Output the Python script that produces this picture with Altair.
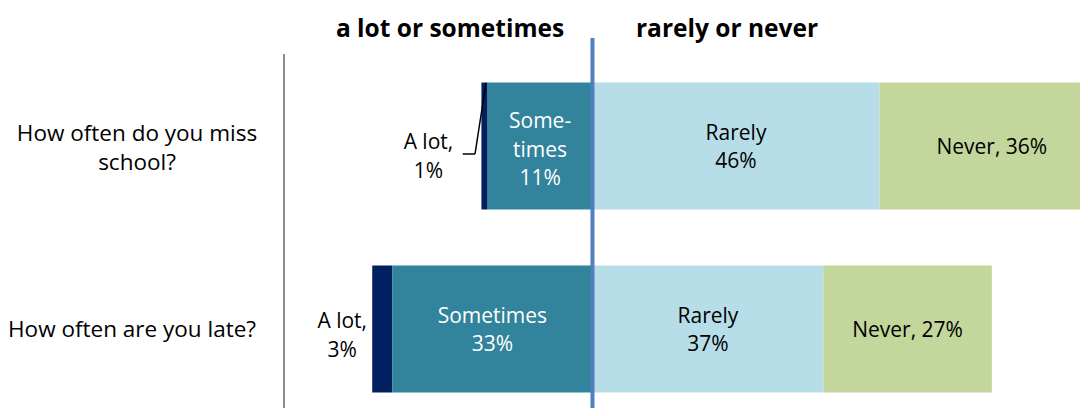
import altair as alt
import pandas as pd

# ---- data ----
questions = ["How often do you miss school?", "How often are you late?"]
question_labels = ["How often do you miss\nschool?", "How often are you late?"]
categories = ["A lot", "Sometimes", "Rarely", "Never"]
a_lot = [1.0, 3.2]
sometimes = [16.8, 32.1]
rarely = [46.0, 37.0]
never = [36.0, 27.0]
label_a_lot = ["A lot,\n1%", "A lot,\n3%"]
label_sometimes = ["Some-\ntimes\n11%", "Sometimes\n33%"]
label_rarely = ["Rarely\n46%", "Rarely\n37%"]
label_never = ["Never, 36%", "Never, 27%"]
headers = ["a lot or sometimes", "rarely or never"]
colors = ["#002060", "#31849B", "#B7DEE8", "#C3D69B"]
text_colors = ["black", "white", "black", "black"]

FONT = "Open Sans"

# ---- build tables ----
rows = []
labels = []
for i, q in enumerate(questions):
    s0, s1 = -sometimes[i], 0.0
    a0, a1 = -sometimes[i] - a_lot[i], -sometimes[i]
    r0, r1 = 0.0, rarely[i]
    n0, n1 = rarely[i], rarely[i] + never[i]
    segs = [(categories[0], a0, a1, label_a_lot[i]),
            (categories[1], s0, s1, label_sometimes[i]),
            (categories[2], r0, r1, label_rarely[i]),
            (categories[3], n0, n1, label_never[i])]
    for k, (cat, lo, hi, lab) in enumerate(segs):
        rows.append({"q": q, "cat": cat, "lo": lo, "hi": hi})
        labels.append({"q": q, "cat": cat, "lo": lo, "mid": (lo + hi) / 2,
                       "text": lab, "tc": text_colors[k], "row": i,
                       "n": lab.count("\n") + 1})

bars_df = pd.DataFrame(rows)
lab_df = pd.DataFrame(labels)
q_df = pd.DataFrame({"q": questions, "text": question_labels,
                     "n": [t.count("\n") + 1 for t in question_labels]})
zero_df = pd.DataFrame({"x": [0.0]})

W, H = 795, 370
xscale = alt.Scale(domain=[-49.28, 78.13], nice=False, zero=False)
yscale = alt.Scale(domain=questions, paddingInner=0.306, paddingOuter=0.16393, align=0.7417)

bars = alt.Chart(bars_df).mark_bar(clip=True, cornerRadius=0).encode(
    x=alt.X("lo:Q", scale=xscale, axis=None),
    x2="hi:Q",
    y=alt.Y("q:N", scale=yscale, axis=None),
    color=alt.Color("cat:N", scale=alt.Scale(domain=categories, range=colors), legend=None),
)


def inside_layer(nlines, dy):
    return alt.Chart(lab_df).transform_filter(
        (alt.datum.cat != "A lot") & (alt.datum.n == nlines)
    ).mark_text(
        font=FONT, fontSize=21, lineBreak="\n", lineHeight=28.5, align="center",
        baseline="middle", dy=dy
    ).encode(
        x=alt.X("mid:Q", scale=xscale),
        y=alt.Y("q:N", scale=yscale),
        text="text:N",
        color=alt.Color("tc:N", scale=None),
    )


inside1 = inside_layer(1, 2)
inside2 = inside_layer(2, -12.5)
inside3 = inside_layer(3, -24)

alot1 = alt.Chart(lab_df).transform_filter(
    (alt.datum.cat == "A lot") & (alt.datum.row == 0)
).mark_text(font=FONT, fontSize=21, lineBreak="\n", lineHeight=28.5, align="center",
            baseline="middle", dx=-53, dy=-3, color="black").encode(
    x=alt.X("lo:Q", scale=xscale), y=alt.Y("q:N", scale=yscale), text="text:N")

alot2 = alt.Chart(lab_df).transform_filter(
    (alt.datum.cat == "A lot") & (alt.datum.row == 1)
).mark_text(font=FONT, fontSize=21, lineBreak="\n", lineHeight=28.5, align="center",
            baseline="middle", dx=-30, dy=-7, color="black").encode(
    x=alt.X("lo:Q", scale=xscale), y=alt.Y("q:N", scale=yscale), text="text:N")

leader_h = alt.Chart(zero_df).mark_rule(color="black", strokeWidth=1.5).encode(
    x=alt.value(177.7), x2=alt.value(190), y=alt.value(116), y2=alt.value(116))
leader_d = alt.Chart(zero_df).mark_rule(color="black", strokeWidth=1.5).encode(
    x=alt.value(190), x2=alt.value(201), y=alt.value(116), y2=alt.value(45))


def q_layer(nlines, dy, xpos):
    return alt.Chart(q_df).transform_filter(alt.datum.n == nlines).mark_text(
        font=FONT, fontSize=22.5, lineBreak="\n", lineHeight=29, align="center",
        baseline="middle", color="black", dy=dy
    ).encode(x=alt.value(xpos), y=alt.Y("q:N", scale=yscale), text="text:N")


qlabels1 = q_layer(1, 1, -153)
qlabels2 = q_layer(2, -12, -148)

center_line = alt.Chart(zero_df).mark_rule(color="#4F81BD", strokeWidth=4).encode(
    x=alt.X("x:Q", scale=xscale), y=alt.value(0), y2=alt.value(H))

gray_line = alt.Chart(zero_df).mark_rule(color="#8C8C8C", strokeWidth=2).encode(
    x=alt.value(-1), y=alt.value(16), y2=alt.value(H))

head_df = pd.DataFrame({"h": headers, "px": [165, 442]})
head = alt.Chart(head_df).mark_text(
    font=FONT, fontSize=24.5, fontWeight="bold", align="center", baseline="middle", color="black"
).encode(x=alt.X("px:Q", scale=None), y=alt.value(-8), text="h:N")

chart = alt.layer(
    bars, center_line, gray_line, inside1, inside2, inside3, alot1, alot2,
    leader_h, leader_d, qlabels1, qlabels2, head
).properties(
    width=W, height=H,
    background="white",
    padding={"left": 277, "top": 30, "right": 0, "bottom": 0},
    autosize=alt.AutoSizeParams(type="none"),
).configure_view(stroke="transparent", strokeWidth=0)

chart.save("out.html", embed_options={"renderer": "svg", "actions": False})
